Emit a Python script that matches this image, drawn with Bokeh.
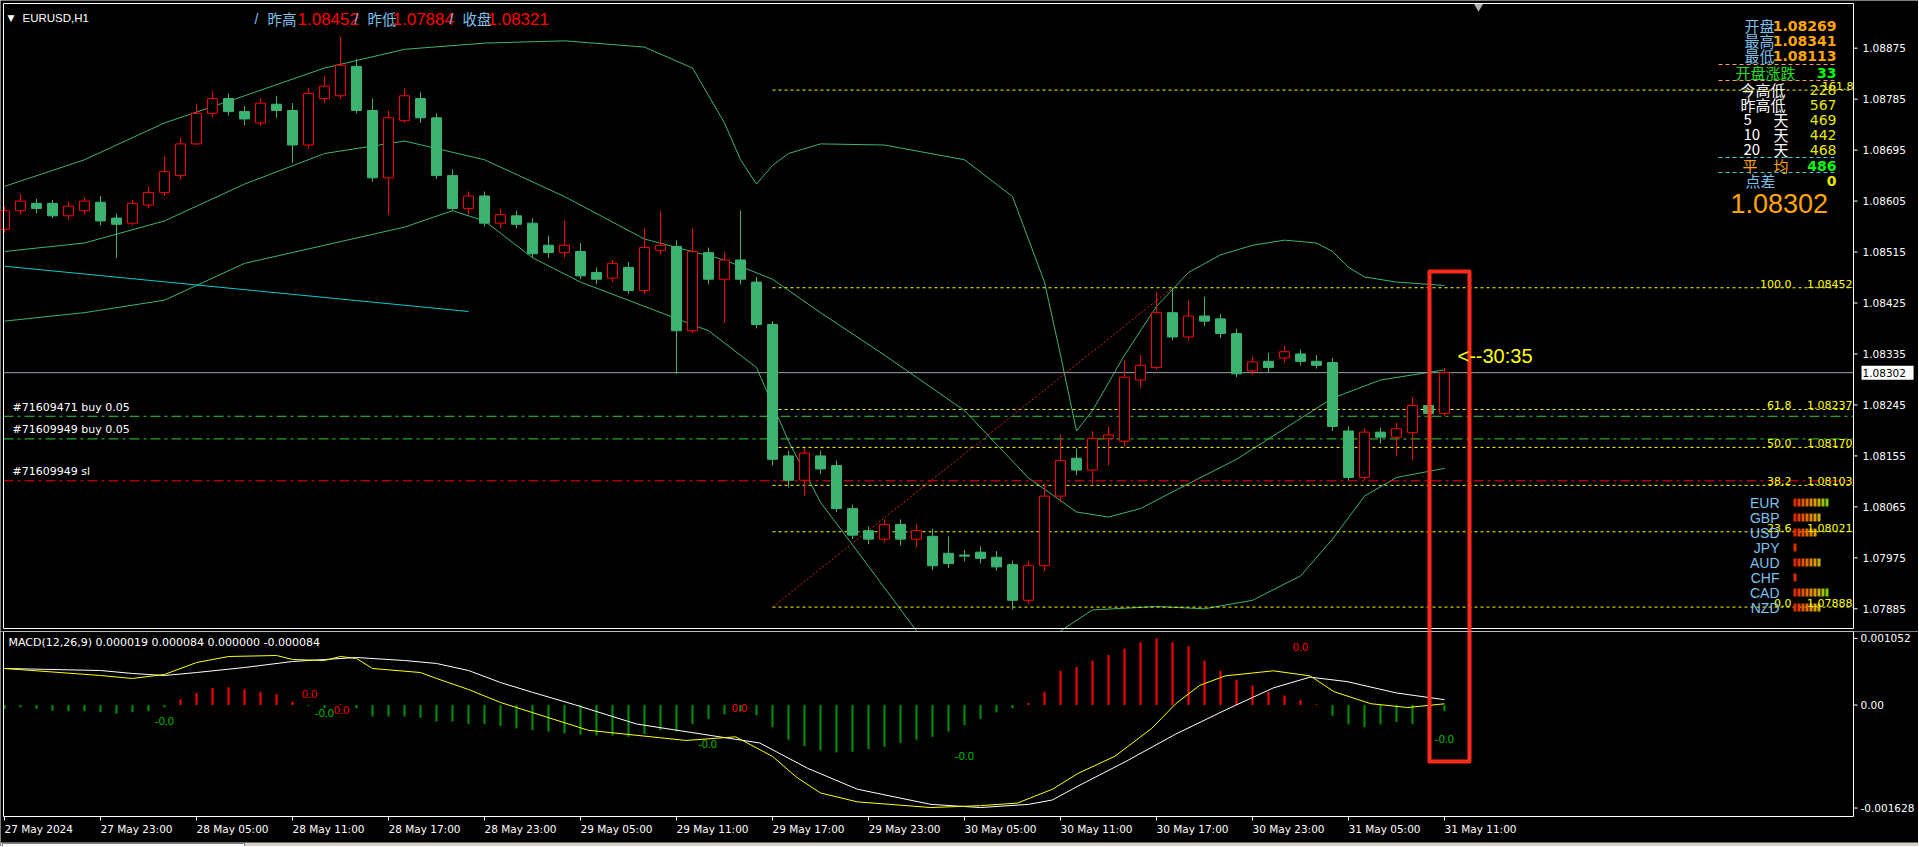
from bokeh.plotting import figure
from bokeh.models import Range1d, Label, ColumnDataSource
from bokeh.layouts import column
from bokeh.embed import file_html
from bokeh.resources import INLINE

# ---------------------------------------------------------------- data
SYMBOL = "EURUSD,H1"
OPEN = [1.08555, 1.08588, 1.08601, 1.08601, 1.08579, 1.08588, 1.08603, 1.08575, 1.08566, 1.08598,
        1.08620, 1.08650, 1.08706, 1.08760, 1.08786, 1.08763, 1.08743, 1.08776, 1.08765, 1.08704,
        1.08786, 1.08791, 1.08843, 1.08765, 1.08646, 1.08747, 1.08786, 1.08752, 1.08650, 1.08592,
        1.08614, 1.08566, 1.08579, 1.08566, 1.08527, 1.08514, 1.08516, 1.08479, 1.08469, 1.08488,
        1.08447, 1.08518, 1.08525, 1.08376, 1.08514, 1.08467, 1.08501, 1.08462, 1.08387, 1.08155,
        1.08112, 1.08155, 1.08138, 1.08062, 1.08023, 1.08008, 1.08034, 1.08008, 1.08013, 1.07983,
        1.07980, 1.07985, 1.07976, 1.07963, 1.07900, 1.07961, 1.08084, 1.08151, 1.08130, 1.08186,
        1.08181, 1.08289, 1.08311, 1.08408, 1.08365, 1.08402, 1.08397, 1.08371, 1.08305, 1.08322,
        1.08328, 1.08335, 1.08322, 1.08320, 1.08199, 1.08117, 1.08197, 1.08188, 1.08196, 1.08244,
        1.08230]
HIGH = [1.08596, 1.08618, 1.08609, 1.08607, 1.08605, 1.08611, 1.08614, 1.08583, 1.08607, 1.08631,
        1.08683, 1.08717, 1.08776, 1.08799, 1.08795, 1.08773, 1.08786, 1.08791, 1.08778, 1.08804,
        1.08825, 1.08894, 1.08856, 1.08786, 1.08765, 1.08804, 1.08797, 1.08760, 1.08661, 1.08622,
        1.08622, 1.08592, 1.08588, 1.08575, 1.08544, 1.08570, 1.08531, 1.08488, 1.08501, 1.08497,
        1.08557, 1.08588, 1.08536, 1.08557, 1.08523, 1.08514, 1.08588, 1.08471, 1.08393, 1.08164,
        1.08168, 1.08164, 1.08147, 1.08069, 1.08030, 1.08043, 1.08043, 1.08034, 1.08026, 1.08013,
        1.07989, 1.07995, 1.07987, 1.07970, 1.07970, 1.08106, 1.08192, 1.08168, 1.08199, 1.08207,
        1.08324, 1.08333, 1.08445, 1.08452, 1.08430, 1.08436, 1.08406, 1.08380, 1.08330, 1.08337,
        1.08350, 1.08343, 1.08333, 1.08328, 1.08207, 1.08203, 1.08205, 1.08214, 1.08258, 1.08246,
        1.08310]
LOW = [1.08549, 1.08581, 1.08583, 1.08575, 1.08572, 1.08581, 1.08562, 1.08505, 1.08562, 1.08592,
       1.08614, 1.08644, 1.08704, 1.08754, 1.08756, 1.08739, 1.08737, 1.08752, 1.08672, 1.08698,
       1.08778, 1.08786, 1.08760, 1.08639, 1.08581, 1.08743, 1.08743, 1.08644, 1.08588, 1.08581,
       1.08560, 1.08557, 1.08557, 1.08505, 1.08505, 1.08505, 1.08467, 1.08458, 1.08462, 1.08441,
       1.08441, 1.08510, 1.08300, 1.08372, 1.08458, 1.08391, 1.08458, 1.08380, 1.08138, 1.08099,
       1.08084, 1.08123, 1.08056, 1.08008, 1.07999, 1.08002, 1.07997, 1.07995, 1.07953, 1.07957,
       1.07969, 1.07965, 1.07952, 1.07884, 1.07894, 1.07952, 1.08073, 1.08121, 1.08106, 1.08138,
       1.08171, 1.08276, 1.08307, 1.08359, 1.08359, 1.08384, 1.08363, 1.08294, 1.08298, 1.08302,
       1.08320, 1.08315, 1.08309, 1.08199, 1.08112, 1.08112, 1.08177, 1.08155, 1.08147, 1.08228,
       1.08225]
CLOSE = [1.08588, 1.08605, 1.08592, 1.08579, 1.08596, 1.08605, 1.08570, 1.08564, 1.08601, 1.08620,
         1.08657, 1.08706, 1.08760, 1.08786, 1.08763, 1.08750, 1.08778, 1.08765, 1.08704, 1.08795,
         1.08808, 1.08845, 1.08765, 1.08646, 1.08752, 1.08791, 1.08752, 1.08650, 1.08592, 1.08614,
         1.08566, 1.08581, 1.08564, 1.08512, 1.08514, 1.08527, 1.08473, 1.08467, 1.08495, 1.08447,
         1.08523, 1.08527, 1.08376, 1.08516, 1.08467, 1.08501, 1.08467, 1.08387, 1.08149, 1.08112,
         1.08160, 1.08132, 1.08062, 1.08015, 1.08008, 1.08034, 1.08008, 1.08023, 1.07961, 1.07965,
         1.07978, 1.07974, 1.07959, 1.07900, 1.07961, 1.08084, 1.08147, 1.08130, 1.08186, 1.08192,
         1.08294, 1.08315, 1.08408, 1.08365, 1.08402, 1.08393, 1.08371, 1.08300, 1.08321, 1.08311,
         1.08339, 1.08322, 1.08315, 1.08207, 1.08117, 1.08197, 1.08188, 1.08203, 1.08244, 1.08230,
         1.08302]

TIME_TICK_BARS = [0, 6, 12, 18, 24, 30, 36, 42, 48, 54, 60, 66, 72, 78, 84, 90]
TIME_TICK_LABELS = ["27 May 2024", "27 May 23:00", "28 May 05:00", "28 May 11:00", "28 May 17:00",
                    "28 May 23:00", "29 May 05:00", "29 May 11:00", "29 May 17:00", "29 May 23:00",
                    "30 May 05:00", "30 May 11:00", "30 May 17:00", "30 May 23:00", "31 May 05:00",
                    "31 May 11:00"]
PRICE_TICKS = [1.08875, 1.08785, 1.08695, 1.08605, 1.08515, 1.08425, 1.08335,
               1.08245, 1.08155, 1.08065, 1.07975, 1.07885]
CURRENT_PRICE = 1.08302

BB_UP_BARS = [0, 5, 10, 15, 20, 25, 30, 35, 40, 43, 45, 46, 47, 48, 49, 51, 55, 60, 63, 65, 66, 67,
              68, 70, 72, 74, 76, 78, 80, 82, 83, 84, 85, 87, 89, 90]
BB_UP = [1.08631, 1.08678, 1.08743, 1.08791, 1.08840, 1.08873, 1.08884, 1.08888, 1.08877, 1.08840,
         1.08743, 1.08678, 1.08635, 1.08668, 1.08689, 1.08706, 1.08704, 1.08678, 1.08613, 1.08462,
         1.08333, 1.08199, 1.08235, 1.08333, 1.08419, 1.08479, 1.08510, 1.08527, 1.08536, 1.08531,
         1.08516, 1.08488, 1.08471, 1.08462, 1.08458, 1.08456]
BB_MID_BARS = [0, 5, 10, 15, 20, 25, 30, 35, 40, 45, 48, 51, 55, 60, 64, 67, 69, 71, 74, 77, 80, 83,
               86, 90]
BB_MID = [1.08516, 1.08531, 1.08570, 1.08635, 1.08689, 1.08711, 1.08678, 1.08613, 1.08538, 1.08501,
          1.08467, 1.08408, 1.08333, 1.08235, 1.08116, 1.08056, 1.08047, 1.08062, 1.08106, 1.08149,
          1.08203, 1.08257, 1.08289, 1.08307]
BB_LOW_BARS = [0, 5, 10, 15, 20, 25, 28, 30, 33, 36, 40, 44, 47, 49, 51, 53, 55, 57, 60, 64, 66, 68,
               72, 75, 78, 81, 83, 85, 87, 90]
BB_LOW = [1.08393, 1.08408, 1.08430, 1.08495, 1.08527, 1.08559, 1.08588, 1.08570, 1.08505, 1.08462,
          1.08419, 1.08376, 1.08311, 1.08181, 1.08073, 1.07998, 1.07922, 1.07846, 1.07781, 1.07781,
          1.07846, 1.07883, 1.07889, 1.07885, 1.07900, 1.07943, 1.08008, 1.08084, 1.08117, 1.08133]
TREND_BARS = [0, 29]
TREND_PRICES = [1.08490, 1.08410]

FIB_LEVELS = [161.8, 100.0, 61.8, 50.0, 38.2, 23.6, 0.0]
FIB_PRICES = [1.08801, 1.08452, 1.08237, 1.08170, 1.08103, 1.08021, 1.07888]
FIB_START_BAR = 48
FIB_TREND_BARS = [48, 73]
FIB_TREND_PRICES = [1.07888, 1.08452]

ORDER_TEXTS = ["#71609471 buy 0.05", "#71609949 buy 0.05", "#71609949 sl"]
ORDER_PRICES = [1.08225, 1.08185, 1.08111]
ORDER_KINDS = ["buy", "buy", "sl"]

HEADER_NAMES = ["昨高", "昨低", "收盘"]
HEADER_VALUES = ["1.08452", "1.07884", "1.08321"]

INFO_TOP_NAMES = ["开盘", "最高", "最低"]
INFO_TOP_VALUES = ["1.08269", "1.08341", "1.08113"]
OPEN_CHANGE = "33"
STAT_NAMES = [("今高低", ""), ("昨高低", ""), ("5", "天"), ("10", "天"), ("20", "天")]
STAT_VALUES = ["228", "567", "469", "442", "468"]
AVERAGE = "486"
SPREAD = "0"
BIG_PRICE = "1.08302"
COUNTDOWN = "<--30:35"

CURRENCIES = ["EUR", "GBP", "USD", "JPY", "AUD", "CHF", "CAD", "NZD"]
STRENGTH = [9, 7, 6, 1, 7, 1, 9, 7]

MACD_TITLE = "MACD(12,26,9) 0.000019 0.000084 0.000000 -0.000084"
MACD_HIST = [-0.00006, -0.00004, -0.00006, -0.00009, -0.0001, -0.0001, -0.00011, -0.00014, -0.00011,
             -0.0001, -0.00004,
             0.00009, 0.00019, 0.00027, 0.00028, 0.00025, 0.0002, 0.00017, 0.00005,
             -0.00001, -0.00005, 0.00001, -0.00005,
             -0.00018, -0.00018, -0.00018, -0.0002, -0.00026, -0.00026, -0.0003, -0.0003,
             -0.00033, -0.00037, -0.0004, -0.00042, -0.00045, -0.00047, -0.00048, -0.00048, -0.0005,
             -0.00046, -0.0004, -0.00042, -0.0003, -0.00022, -0.00015, -0.0001, -0.00016,
             -0.00035, -0.00055, -0.00065, -0.00072, -0.00075, -0.00074, -0.0007, -0.00066, -0.0006,
             -0.00055, -0.0005, -0.00042, -0.00032, -0.00022, -0.00012,
             -0.00005, 0.00003,
             0.00021, 0.00054, 0.0006, 0.0007, 0.00079, 0.00089, 0.00099, 0.00105, 0.00099, 0.00093,
             0.0007, 0.00054, 0.0004, 0.00031,
             0.00021, 0.00015, 0.00008, 0.00001,
             -0.00017, -0.00031, -0.00035, -0.00031, -0.00027, -0.0003, -0.0002, -0.0001]
DIF_BARS = [0, 6, 8, 10, 12, 14, 17, 18, 20, 21, 22, 23, 26, 27, 29, 31, 33, 36.5, 42.6, 45.7, 48,
            49.5, 51, 53.3, 57.9, 61, 63.3, 65.5, 67.1, 69.4, 71.7, 73.2, 74.7, 76.3, 79.3, 81.6,
            83.1, 85.4, 87.7, 90]
DIF = [0.000577, 0.000466, 0.000419, 0.000482, 0.000671, 0.000766, 0.000782, 0.000719, 0.000703,
       0.000766, 0.000735, 0.000577, 0.000513, 0.000419, 0.000245, 0.00004, -0.00012, -0.0004,
       -0.00056, -0.000503, -0.000812, -0.00114, -0.00139, -0.00153, -0.00162, -0.00159, -0.00155,
       -0.00133, -0.00108, -0.00081, -0.00037, 0.00002, 0.00031, 0.00046, 0.00054, 0.00046, 0.00021,
       0.00002, -0.00004, 0.000019]
DEA_BARS = [0, 6, 8, 10, 12, 15, 18, 20, 22, 25, 27, 29, 31, 33, 35.7, 39.5, 44.1, 47.2, 50.2, 53.3,
            57.9, 61, 64, 65.5, 67.1, 70.1, 73.2, 76.3, 79.3, 81.6, 83.9, 87, 90]
DEA = [0.000577, 0.000545, 0.000498, 0.000466, 0.000513, 0.000592, 0.000687, 0.000719, 0.00075,
       0.000703, 0.000656, 0.000545, 0.000355, 0.0002, 0.0, -0.0003, -0.00048, -0.0006, -0.001,
       -0.00133, -0.00157, -0.00162, -0.00157, -0.0015, -0.00128, -0.00089, -0.00046, -0.00008,
       0.00027, 0.00044, 0.00037, 0.00019, 0.000084]
MACD_TICKS = [0.001052, 0.0, -0.001628]
MACD_TICK_LABELS = ["0.001052", "0.00", "-0.001628"]
MACD_MARK_TEXTS = ["-0.0", "0.0", "-0.0", "0.0", "0.0", "-0.0", "-0.0", "0.0", "-0.0"]

# ---------------------------------------------------------------- geometry (page pixels)
W = 1918
MAIN_H = 631
MACD_H = 215
BAR_PX = 16.0
XS = -0.25          # bar i centred at page x = 4 + 16 i
AXIS_PX = 1853      # price-axis line
LEFT_PX = 3


def bx(px):
    return XS + px / BAR_PX


def pp(py):
    return 1.08875 - (py - 47.7) / 56626.0


def mp(py):
    return (704.5 - py) / 63300.0


BG = "black"
CJK = "Noto Sans CJK SC"
SANS = "DejaVu Sans"
LIB = "Liberation Sans"
LBLUE = "#7EC0EE"
ORANGE = "#FFA500"
YELLOW = "#FFFF00"
GREEN_BAR = "#3CB371"
RED = "#FF0000"
BOX_RED = "#FF2A1A"

HAS_PADDING = "padding" in Label.properties()


def lab(fig, x, y, text, color, size, font=SANS, align="left", baseline="middle", style="normal",
        bg=None):
    kw = {}
    if bg is not None:
        kw["background_fill_color"] = bg
        if HAS_PADDING:
            kw["padding"] = 1
    fig.add_layout(Label(x=x, y=y, text=text, text_color=color, text_font_size=f"{size}px",
                         text_font=font, text_align=align, text_baseline=baseline,
                         text_font_style=style, **kw))


def canvas(height, y_lo, y_hi):
    f = figure(width=W, height=height, x_range=Range1d(XS, XS + W / BAR_PX),
               y_range=Range1d(y_lo, y_hi), output_backend="svg", toolbar_location=None,
               x_axis_location=None, y_axis_location=None, min_border=0,
               background_fill_color=BG, border_fill_color=BG, outline_line_color=None)
    f.grid.visible = False
    return f


# ---------------------------------------------------------------- main chart
p = canvas(MAIN_H, pp(MAIN_H), pp(0))
xl, xr = bx(LEFT_PX), bx(AXIS_PX)

# bollinger bands & trend line
p.line(BB_UP_BARS, BB_UP, line_color=GREEN_BAR, line_width=1)
p.line(BB_MID_BARS, BB_MID, line_color=GREEN_BAR, line_width=1)
p.line(BB_LOW_BARS, BB_LOW, line_color=GREEN_BAR, line_width=1)
p.line(TREND_BARS, TREND_PRICES, line_color="#00CED1", line_width=1)

# fibonacci
p.segment(x0=[FIB_START_BAR] * len(FIB_PRICES), x1=[xr] * len(FIB_PRICES), y0=FIB_PRICES,
          y1=FIB_PRICES, line_color=YELLOW, line_dash="3 3", line_width=1)
p.line(FIB_TREND_BARS, FIB_TREND_PRICES, line_color="#E02020", line_dash="2 2", line_width=1)

# order lines and bid line
p.segment(x0=[xl] * 3, x1=[xr] * 3, y0=ORDER_PRICES, y1=ORDER_PRICES,
          line_color=["#32CD32" if k == "buy" else RED for k in ORDER_KINDS],
          line_dash="10 4 3 4", line_width=1)
for t, pr in zip(ORDER_TEXTS, ORDER_PRICES):
    lab(p, bx(12), pr + 2.5 / 56626.0, t, "white", 11, baseline="bottom")
p.segment(x0=[xl], x1=[xr], y0=[CURRENT_PRICE], y1=[CURRENT_PRICE], line_color="#98A4B0",
          line_width=1)

# candles
idx = list(range(len(OPEN)))
up = [c >= o for o, c in zip(OPEN, CLOSE)]
src = ColumnDataSource(dict(
    x=idx, h=HIGH, l=LOW,
    top=[max(o, c) for o, c in zip(OPEN, CLOSE)],
    bot=[min(o, c) for o, c in zip(OPEN, CLOSE)],
    col=[RED if u else GREEN_BAR for u in up],
    fill=[BG if u else GREEN_BAR for u in up]))
p.segment(x0="x", y0="l", x1="x", y1="h", line_color="col", line_width=1, source=src)
p.vbar(x="x", width=0.62, top="top", bottom="bot", fill_color="fill", line_color="col",
       line_width=1, source=src)

# fib labels
for lv, pr in zip(FIB_LEVELS, FIB_PRICES):
    if lv > 100:
        lab(p, bx(1853), pr, f"{lv:.1f}", YELLOW, 11, align="right", baseline="bottom")
        continue
    lab(p, bx(1791), pr, f"{lv:.1f}", YELLOW, 11, align="right", baseline="bottom")
    lab(p, bx(1852), pr, f"{pr:.5f}", YELLOW, 11, align="right", baseline="bottom")

# header
lab(p, bx(7), pp(17), "▼", "white", 9)
lab(p, bx(22), pp(17), SYMBOL, "white", 11.5, font=LIB)
hx = [(254, 267, 297), (354, 367, 392), (449, 462, 487)]
for (x0, x1, x2), nm, vl in zip(hx, HEADER_NAMES, HEADER_VALUES):
    lab(p, bx(x0), pp(18), "/", LBLUE, 14, font=LIB)
    lab(p, bx(x1), pp(18), nm, LBLUE, 14.5, font=CJK)
    lab(p, bx(x2), pp(18.5), vl, RED, 17, font=LIB)
p.scatter([bx(1478)], [pp(6)], marker="inverted_triangle", size=9, fill_color="#B0B0B0",
          line_color=None)

# info panel
for i, (nm, vl) in enumerate(zip(INFO_TOP_NAMES, INFO_TOP_VALUES)):
    y = pp(25 + 15 * i)
    lab(p, bx(1744), y, nm, LBLUE, 15, font=CJK)
    lab(p, bx(1836), y, vl, ORANGE, 14, align="right", style="bold")
for yy in (64, 80):
    p.line([bx(1718), bx(1835)], [pp(yy), pp(yy)], line_color="#FFA060", line_dash="4 3")
for yy in (157, 172):
    p.line([bx(1718), bx(1835)], [pp(yy), pp(yy)], line_color="#40C8D8", line_dash="4 3")
lab(p, bx(1735), pp(72), "开盘涨跌", "#20E020", 15, font=CJK)
lab(p, bx(1836), pp(72), OPEN_CHANGE, "#00FF00", 14, align="right", style="bold")
for i, ((n1, n2), vl) in enumerate(zip(STAT_NAMES, STAT_VALUES)):
    y = pp(89 + 15 * i)
    if n2:
        lab(p, bx(1743), y, n1, "white", 15, font=CJK)
        lab(p, bx(1773), y, n2, "white", 15, font=CJK)
    else:
        lab(p, bx(1740), y, n1, "white", 15, font=CJK)
    lab(p, bx(1836), y, vl, "#E8E800", 14, align="right")
lab(p, bx(1742), pp(165), "平", ORANGE, 15, font=CJK)
lab(p, bx(1773), pp(165), "均", ORANGE, 15, font=CJK)
lab(p, bx(1836), pp(165), AVERAGE, "#00FF00", 14, align="right", style="bold")
lab(p, bx(1745), pp(180), "点差", LBLUE, 15, font=CJK)
lab(p, bx(1836), pp(180), SPREAD, "#E8E800", 14, align="right", style="bold")
lab(p, bx(1730), pp(203), BIG_PRICE, ORANGE, 27, font=LIB)

# countdown
lab(p, bx(1457), pp(355), COUNTDOWN, YELLOW, 20, font=LIB)

# currency strength panel
SEG_COLORS = ["#E02800", "#E23C00", "#E45400", "#E46C00", "#E48400", "#DC9C00", "#C8B000",
              "#A8C000", "#7CD000", "#60D800"]
for i, (cur, n) in enumerate(zip(CURRENCIES, STRENGTH)):
    yc = 502 + 15 * i
    lab(p, bx(1779), pp(yc), cur, LBLUE, 14, font=LIB, align="right")
    left = [bx(1793 + 4 * k) for k in range(n)]
    right = [bx(1796 + 4 * k) for k in range(n)]
    p.quad(left=left, right=right, top=[pp(yc - 4)] * n, bottom=[pp(yc + 4)] * n,
           fill_color=SEG_COLORS[:n], line_color=None)

# price axis (drawn on the canvas so the bid tag can sit on it)
p.segment(x0=[xl, xl, xl, xr], y0=[pp(3), pp(3), pp(628), pp(3)],
          x1=[xr, xl, xr, xr], y1=[pp(3), pp(628), pp(628), pp(628)],
          line_color="white", line_width=1)
p.segment(x0=[xr] * len(PRICE_TICKS), x1=[bx(AXIS_PX + 4)] * len(PRICE_TICKS), y0=PRICE_TICKS,
          y1=PRICE_TICKS, line_color="white", line_width=1)
for t in PRICE_TICKS:
    lab(p, bx(1862), t, f"{t:.5f}", "white", 10.5)
lab(p, bx(1861), CURRENT_PRICE, f"{CURRENT_PRICE:.5f}  ", "black", 10.5, bg="white")

# red highlight box (top part)
bx0, bx1 = bx(1429), bx(1469)
p.line([bx0, bx0, bx1, bx1], [pp(700), pp(271), pp(271), pp(700)], line_color=BOX_RED,
       line_width=4, line_join="round")

# ---------------------------------------------------------------- MACD panel
m = canvas(MACD_H, mp(MAIN_H + MACD_H), mp(MAIN_H))

hsrc = ColumnDataSource(dict(
    x=idx, top=[max(h, 0) for h in MACD_HIST], bot=[min(h, 0) for h in MACD_HIST],
    col=[RED if h > 0 else "#009000" for h in MACD_HIST]))
m.vbar(x="x", width=0.13, top="top", bottom="bot", fill_color="col", line_color=None, source=hsrc)
m.line(DEA_BARS, DEA, line_color="white", line_width=1)
m.line(DIF_BARS, DIF, line_color=YELLOW, line_width=1)

lab(m, bx(8), mp(641.7), MACD_TITLE, "white", 11)
mark_px = [(164, 720), (309, 693), (324, 712), (341, 709), (739, 707), (707, 743), (964, 755),
           (1300, 646), (1444, 738)]
for (mx, my), t in zip(mark_px, MACD_MARK_TEXTS):
    lab(m, bx(mx), mp(my), t, "#00C000" if t.startswith("-") else RED, 11, font=LIB,
        align="center")

# MACD frame, value axis and time axis
m.segment(x0=[xl, xl, xl, xr], y0=[mp(631), mp(631), mp(816), mp(631)],
          x1=[xr, xl, xr, xr], y1=[mp(631), mp(816), mp(816), mp(816)],
          line_color="white", line_width=1)
m.segment(x0=[xr] * 3, x1=[bx(AXIS_PX + 4)] * 3, y0=MACD_TICKS, y1=MACD_TICKS,
          line_color="white", line_width=1)
for v, t in zip(MACD_TICKS, MACD_TICK_LABELS):
    lab(m, bx(1860), v, t, "white", 10.5)
m.segment(x0=TIME_TICK_BARS, x1=TIME_TICK_BARS, y0=[mp(816)] * len(TIME_TICK_BARS),
          y1=[mp(820)] * len(TIME_TICK_BARS), line_color="white", line_width=1)
for b, t in zip(TIME_TICK_BARS, TIME_TICK_LABELS):
    lab(m, b, mp(828), t, "white", 10.5)

m.line([bx0, bx0, bx1, bx1], [mp(600), mp(761), mp(761), mp(600)], line_color=BOX_RED,
       line_width=4, line_join="round")

# terminal tab strip at the very bottom
m.quad(left=[bx(0)], right=[bx(W)], top=[mp(842)], bottom=[mp(850)], fill_color="#D4D0C8",
       line_color=None)
m.quad(left=[bx(2)], right=[bx(244)], top=[mp(843)], bottom=[mp(850)], fill_color="white",
       line_color="#808080")

layout = column(p, m, spacing=0)
open("out.html", "w").write(file_html(layout, INLINE))
